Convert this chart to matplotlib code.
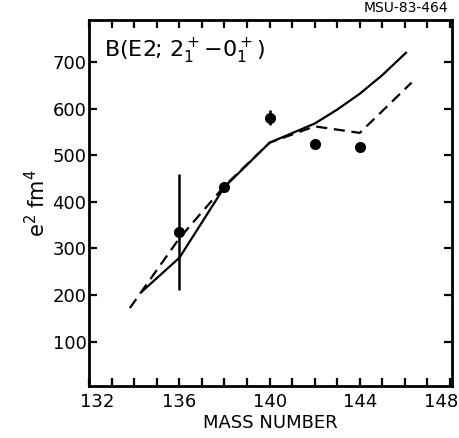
import numpy as np
import matplotlib
matplotlib.use("Agg")
import matplotlib.pyplot as plt
import matplotlib.transforms as mtransforms
from matplotlib.ticker import MultipleLocator

plt.rcParams['font.family'] = ['DejaVu Sans']
plt.rcParams['mathtext.fontset'] = 'dejavusans'

# measured B(E2) values
mass_exp = np.array([136, 138, 140, 142, 144])
be2_exp = np.array([335, 432, 581, 524, 517])
be2_err = np.array([125, 0, 17, 0, 0])

# theory, solid curve
mass_solid = np.array([134.35, 136, 138, 140, 142, 143, 144, 145, 146.05])
be2_solid = np.array([208, 280, 432, 527, 568, 598, 632, 672, 720])

# theory, dashed curve
mass_dash = np.array([133.8, 136, 138, 140, 142, 144, 146.3])
be2_dash = np.array([172, 322, 434, 527, 562, 548, 656])

xticks = [132, 136, 140, 144, 148]
yticks = [100, 200, 300, 400, 500, 600, 700]

fig = plt.figure(figsize=(4.6, 4.38), dpi=100)
ax = fig.add_axes([0.194, 0.119, 0.789, 0.835])

ax.plot(mass_solid, be2_solid, color='black', lw=1.6)
ax.plot(mass_dash, be2_dash, color='black', lw=1.6, dashes=(5, 3))
ax.errorbar(mass_exp, be2_exp, yerr=be2_err, fmt='o', color='black',
            ms=7, elinewidth=1.8, capsize=0)

ax.set_xlim(132, 148.1)
ax.set_ylim(5, 790)
ax.set_xticks(xticks)
ax.set_yticks(yticks)
ax.xaxis.set_minor_locator(MultipleLocator(1))
ax.tick_params(axis='both', which='both', direction='in', length=6, width=1.6,
               top=True, right=True, labelsize=13, pad=5)
ax.tick_params(axis='y', pad=2)
for s in ax.spines.values():
    s.set_linewidth(2)

# hand-lettered labels sit a bit off their ticks; keep 148 inside the frame
shifts = {132: 8, 148: -9}
for lab, val in zip(ax.get_xticklabels(), xticks):
    if val in shifts:
        off = mtransforms.ScaledTranslation(shifts[val] / 100, 0, fig.dpi_scale_trans)
        lab.set_transform(lab.get_transform() + off)

ax.set_xlabel('MASS NUMBER', fontsize=13, labelpad=2)
ax.set_ylabel(r'e$^2$ fm$^4$', fontsize=15, labelpad=2)
ax.text(0.04, 0.955, r'B(E2; $2^+_1$$-$$0^+_1$)', transform=ax.transAxes,
        fontsize=16, va='top', ha='left')
fig.text(0.975, 0.965, 'MSU-83-464', fontsize=10, ha='right', va='bottom')

fig.savefig('out.png', dpi=100)
